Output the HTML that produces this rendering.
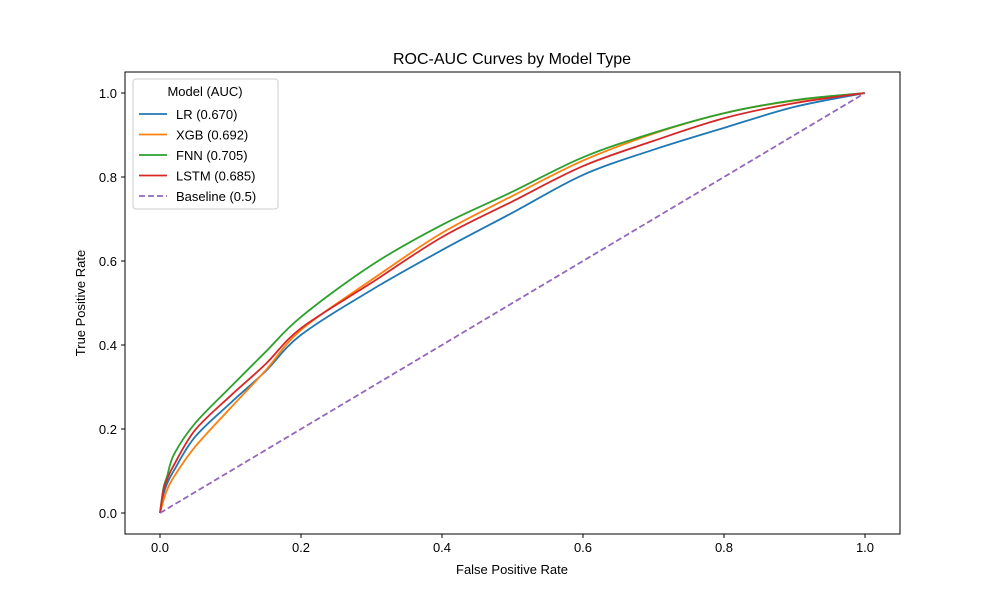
<!DOCTYPE html>
<html><head><meta charset="utf-8"><style>
body{margin:0;background:#fff;}
svg text{font-family:"Liberation Sans","DejaVu Sans",sans-serif;fill:#000;}
</style></head><body>
<svg id="chart" width="1000" height="600" xmlns="http://www.w3.org/2000/svg">
<rect width="1000" height="600" fill="#fff"/>
<text x="512" y="64" font-size="16" text-anchor="middle">ROC-AUC Curves by Model Type</text>
<g id="plot"></g>
<rect x="125" y="72" width="775" height="462" fill="none" stroke="#000" stroke-width="1"/>
<text x="512" y="574" font-size="13" text-anchor="middle">False Positive Rate</text>
<text x="0" y="0" font-size="13" text-anchor="middle" transform="translate(85,303) rotate(-90)">True Positive Rate</text>
<g id="legend"></g>
</svg>
<script>
const fpr=[0,0.005,0.01,0.02,0.05,0.1,0.15,0.2,0.3,0.4,0.5,0.6,0.7,0.8,0.9,1];
const lrTpr=[0,0.045,0.07,0.102,0.182,0.262,0.338,0.424,0.531,0.626,0.715,0.805,0.865,0.917,0.967,1];
const xgbTpr=[0,0.03,0.055,0.087,0.158,0.25,0.34,0.436,0.555,0.667,0.755,0.839,0.903,0.952,0.982,1];
const fnnTpr=[0,0.06,0.087,0.14,0.214,0.30,0.384,0.467,0.59,0.686,0.765,0.847,0.905,0.952,0.983,1];
const lstmTpr=[0,0.055,0.08,0.115,0.198,0.279,0.355,0.44,0.548,0.657,0.742,0.826,0.886,0.94,0.976,1];
const baseTpr=[0,1];
const baseFpr=[0,1];
const seriesNames=["LR (0.670)","XGB (0.692)","FNN (0.705)","LSTM (0.685)","Baseline (0.5)"];
const xTicks=[0,0.2,0.4,0.6,0.8,1.0];
const yTicks=[0,0.2,0.4,0.6,0.8,1.0];
const X=v=>160+v*705, Y=v=>513-v*420;
const NS="http://www.w3.org/2000/svg";
const plot=document.getElementById('plot'), svg=document.getElementById('chart');
function mk(t,a,p){const e=document.createElementNS(NS,t);for(const k in a)e.setAttribute(k,a[k]);(p||plot).appendChild(e);return e;}
function smoothPath(xs,ys){
 const P=xs.map((x,i)=>[X(x),Y(ys[i])]);
 if(P.length<3) return 'M'+P.map(p=>p[0].toFixed(1)+','+p[1].toFixed(1)).join('L');
 let d='M'+P[0][0].toFixed(1)+','+P[0][1].toFixed(1);
 for(let i=0;i<P.length-1;i++){
  const p0=P[Math.max(i-1,0)],p1=P[i],p2=P[i+1],p3=P[Math.min(i+2,P.length-1)];
  const c1=[p1[0]+(p2[0]-p0[0])/6,p1[1]+(p2[1]-p0[1])/6];
  const c2=[p2[0]-(p3[0]-p1[0])/6,p2[1]-(p3[1]-p1[1])/6];
  d+='C'+c1[0].toFixed(1)+','+c1[1].toFixed(1)+' '+c2[0].toFixed(1)+','+c2[1].toFixed(1)+' '+p2[0].toFixed(1)+','+p2[1].toFixed(1);
 }
 return d;
}
xTicks.forEach(v=>{
 const l=mk('line',{x1:X(v),x2:X(v),y1:534,y2:538,stroke:'#000'},svg);
 
 
 const t=mk('text',{x:X(v),y:552,'font-size':13,'text-anchor':'middle'},svg);t.textContent=v.toFixed(1);
 
 
});
yTicks.forEach(v=>{
 const l=mk('line',{x1:121,x2:125,y1:Y(v),y2:Y(v),stroke:'#000'},svg);
 
 
 const t=mk('text',{x:117,y:Y(v)+5,'font-size':13,'text-anchor':'end'},svg);t.textContent=v.toFixed(1);
 
 
});
const series=[[fpr,lrTpr,'#1f77b4',''],[fpr,xgbTpr,'#ff7f0e',''],[fpr,fnnTpr,'#2ca02c',''],[fpr,lstmTpr,'#d62728',''],[baseFpr,baseTpr,'#9467bd','6,3']];
series.forEach((s,i)=>{
 const p=mk('path',{d:smoothPath(s[0],s[1]),fill:'none',stroke:s[2],'stroke-width':1.8,'stroke-linejoin':'round','stroke-dasharray':s[3]||'none'});
 
 
});
const lg=document.getElementById('legend');
const box=mk('rect',{x:133,y:79,width:145,height:130,rx:3,fill:'#fff',stroke:'#ccc','fill-opacity':0.8},lg);


const lt=mk('text',{x:205,y:96,'font-size':13,'text-anchor':'middle'},lg);lt.textContent='Model (AUC)';


seriesNames.forEach((n,i)=>{
 const y=114+i*20.5;
 const l=mk('line',{x1:139,x2:167,y1:y,y2:y,stroke:series[i][2],'stroke-width':1.8,'stroke-dasharray':series[i][3]||'none'},lg);
 
 
 const t=mk('text',{x:176,y:y+5,'font-size':13},lg);t.textContent=n;
 
 
});
</script>
</body></html>
